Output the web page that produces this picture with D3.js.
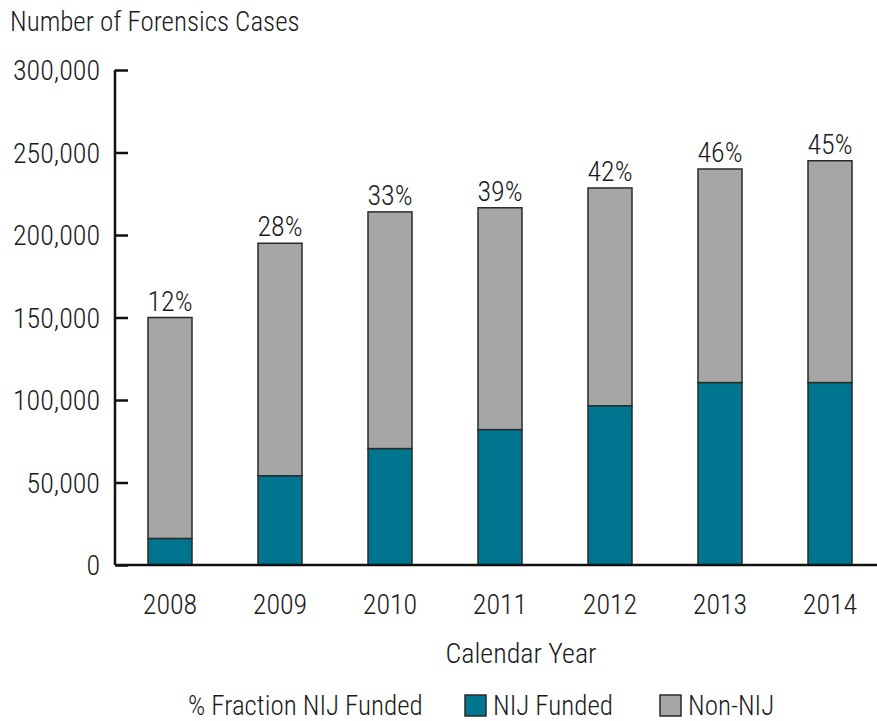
<!DOCTYPE html>
<html><head><meta charset="utf-8">
<script src="https://cdn.jsdelivr.net/npm/d3@7"></script>
<style>
body{margin:0;background:#fff;}
text{font-family:"Liberation Sans Narrow","Roboto Condensed","Arial Narrow",sans-serif;fill:#1a1a1a;font-weight:300;}
</style></head>
<body>
<svg id="chart" width="877" height="721"></svg>
<script>
const years = ["2008","2009","2010","2011","2012","2013","2014"];
const nijFunded = [16000, 54000, 70500, 82000, 96500, 110500, 110500];
const totalCases = [150000, 195000, 214000, 216500, 228500, 240000, 245000];
const pctLabels = ["12%","28%","33%","39%","42%","46%","45%"];
const yTicks = [0, 50000, 100000, 150000, 200000, 250000, 300000];

const svg = d3.select("#chart");
const fs = 28;
const y = d3.scaleLinear().domain([0, 300000]).range([565, 70]);
const x = d3.scaleBand().domain(years).range([115, 885]).paddingInner(0.6).paddingOuter(0.3);

const teal = "#00758F", gray = "#A6A6A6", edge = "#2a2a2a";

// bars
const g = svg.append("g");
years.forEach((yr, i) => {
  g.append("rect").attr("x", x(yr)).attr("width", x.bandwidth())
    .attr("y", y(totalCases[i])).attr("height", y(nijFunded[i]) - y(totalCases[i]))
    .attr("fill", gray).attr("stroke", edge).attr("stroke-width", 1.5);
  g.append("rect").attr("x", x(yr)).attr("width", x.bandwidth())
    .attr("y", y(nijFunded[i])).attr("height", y(0) - y(nijFunded[i]))
    .attr("fill", teal).attr("stroke", edge).attr("stroke-width", 1.5);
  g.append("text").attr("x", x(yr) + x.bandwidth()/2).attr("y", y(totalCases[i]) - 7)
    .attr("text-anchor", "middle").attr("font-size", fs).text(pctLabels[i]);
});

// y axis
const yAxis = d3.axisRight(y).tickValues(yTicks).tickSize(13).tickFormat(d3.format(","));
const ya = svg.append("g").attr("transform", "translate(115,0)").call(yAxis);
ya.select(".domain").attr("stroke", "#111").attr("stroke-width", 2.5).attr("d", "M0," + y(300000) + "V" + y(0));
ya.selectAll(".tick line").attr("stroke", "#111").attr("stroke-width", 2.5);
ya.selectAll(".tick text").attr("x", -15).attr("text-anchor", "end").attr("font-size", fs)
  .attr("fill", "#1a1a1a").attr("font-family", null).attr("dy", "0.35em");

// x axis
const xAxis = d3.axisBottom(x).tickSize(0).tickPadding(29);
const xa = svg.append("g").attr("transform", "translate(0," + y(0) + ")").call(xAxis);
xa.select(".domain").attr("stroke", "#111").attr("stroke-width", 2.5).attr("d", "M115,0H877");
xa.selectAll(".tick text").attr("font-size", fs).attr("fill", "#1a1a1a").attr("font-family", null);

// titles
svg.append("text").attr("x", 10).attr("y", 31).attr("font-size", 27).text("Number of Forensics Cases");
svg.append("text").attr("x", 521).attr("y", 663).attr("text-anchor", "middle").attr("font-size", fs).text("Calendar Year");

// legend
const lg = svg.append("g");
lg.append("text").attr("x", 188).attr("y", 715).attr("font-size", 27).text("% Fraction NIJ Funded");
lg.append("rect").attr("x", 465).attr("y", 695).attr("width", 21).attr("height", 21).attr("fill", teal).attr("stroke", edge).attr("stroke-width", 1.5);
lg.append("text").attr("x", 493).attr("y", 715).attr("font-size", 27).text("NIJ Funded");
lg.append("rect").attr("x", 660).attr("y", 695).attr("width", 21).attr("height", 21).attr("fill", gray).attr("stroke", edge).attr("stroke-width", 1.5);
lg.append("text").attr("x", 688).attr("y", 715).attr("font-size", 27).text("Non-NIJ");
</script>
</body></html>
